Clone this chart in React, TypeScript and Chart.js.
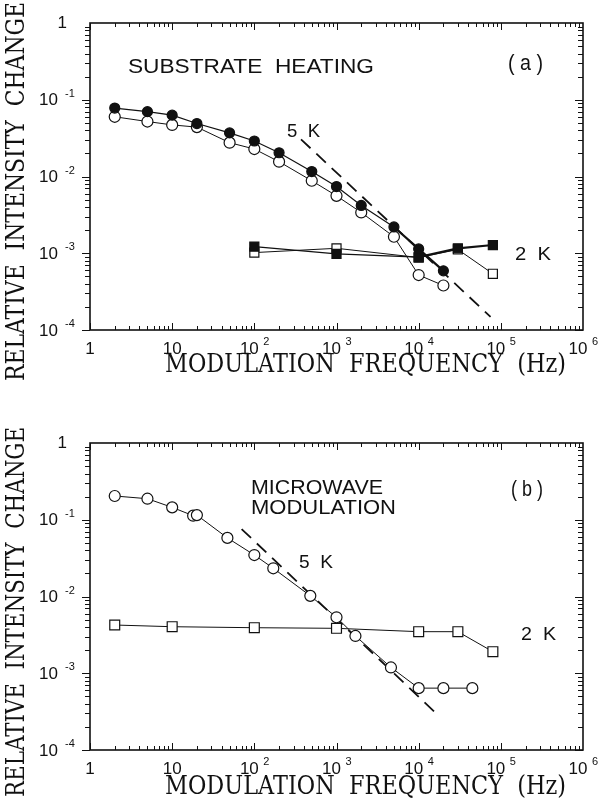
import React, { useEffect, useRef } from "react";
import { Chart, registerables } from "chart.js";
Chart.register(...registerables);

// ---- Axis tick labels ----
const xTickValues = [1, 10, 100, 1000, 10000, 100000, 1000000];
const xTickBases = ["1", "10", "10", "10", "10", "10", "10"];
const xTickExps = ["", "", "2", "3", "4", "5", "6"];
const yTickValues = [1, 0.1, 0.01, 0.001, 0.0001];
const yTickBases = ["1", "10", "10", "10", "10"];
const yTickExps = ["", "-1", "-2", "-3", "-4"];

const xTitle = "MODULATION  FREQUENCY  (Hz)";
const yTitle = "RELATIVE  INTENSITY  CHANGE";

// ---- Panel (a): substrate heating ----
const freqA5K = [2, 5, 10, 20, 50, 100, 200, 500, 1000, 2000, 5000, 10000, 20000];
const filledA5K = [0.078, 0.07, 0.063, 0.049, 0.037, 0.029, 0.0204, 0.0116, 0.0074, 0.0042, 0.0022, 0.00114, 0.00059];
const openA5K = [0.06, 0.052, 0.047, 0.044, 0.0276, 0.0228, 0.0156, 0.0088, 0.0056, 0.0034, 0.00164, 0.00052, 0.00038];
const freqA2K = [100, 1000, 10000, 30000, 80000];
const filledA2K = [0.00122, 0.00098, 0.00089, 0.00116, 0.00128];
const openA2K = [0.00102, 0.00116, 0.00088, 0.00112, 0.00054];
const dashAx = [370, 75000];
const dashAy = [0.0305, 0.000148];

// ---- Panel (b): microwave modulation ----
const freqB5K = [2, 5, 10, 18, 20, 47, 100, 170, 480, 1000, 1700, 4600, 10000, 20000, 45000];
const openB5K = [0.204, 0.188, 0.145, 0.113, 0.115, 0.058, 0.0347, 0.0233, 0.0102, 0.00536, 0.00306, 0.00119, 0.00064, 0.00064, 0.00064];
const freqB2K = [2, 10, 100, 1000, 10000, 30000, 80000];
const openB2K = [0.00425, 0.00404, 0.00392, 0.00385, 0.00348, 0.00348, 0.00191];
const dashBx = [70, 18000];
const dashBy = [0.0757, 0.000272];

const INK = "#111";
const SANS = '"Liberation Sans", Arial, sans-serif';
const SERIF = '"DejaVu Serif", serif';

function pts(xs: number[], ys: number[]) {
  return xs.map((x, i) => ({ x, y: ys[i] }));
}

type Txt = { s: string; x1: number; x2: number; yc: number; size: number };

function drawFit(ctx: CanvasRenderingContext2D, t: Txt) {
  ctx.save();
  ctx.font = `${t.size}px ${SANS}`;
  ctx.textAlign = "left";
  ctx.textBaseline = "middle";
  const w = ctx.measureText(t.s).width;
  ctx.translate(t.x1, t.yc);
  ctx.scale((t.x2 - t.x1) / w, 1);
  ctx.fillText(t.s, 0, 0);
  ctx.restore();
}

function makeDecor(texts: Txt[], xTitleY: number, yTitleC: number, yTitleLen: number) {
  return {
    id: "decor",
    afterDraw(chart: any) {
      const ctx: CanvasRenderingContext2D = chart.ctx;
      const xs = chart.scales.x;
      const ys = chart.scales.y;
      const { left, right, top, bottom } = chart.chartArea;
      ctx.save();
      ctx.strokeStyle = INK;
      ctx.fillStyle = INK;
      // frame
      ctx.lineWidth = 1.6;
      ctx.strokeRect(left, top, right - left, bottom - top);
      // x ticks (inward, top and bottom)
      ctx.lineWidth = 1;
      ctx.beginPath();
      for (let d = 0; d < 6; d++) {
        for (let m = 1; m <= 9; m++) {
          const px = Math.round(xs.getPixelForValue(Math.pow(10, d) * m)) + 0.5;
          const len = m === 1 ? 7 : 4;
          ctx.moveTo(px, bottom);
          ctx.lineTo(px, bottom - len);
          ctx.moveTo(px, top);
          ctx.lineTo(px, top + len);
        }
      }
      // y ticks (outward on left, inward on right)
      for (let d = -4; d < 0; d++) {
        for (let m = 1; m <= 9; m++) {
          const py = Math.round(ys.getPixelForValue(Math.pow(10, d) * m)) + 0.5;
          const len = m === 1 ? 8 : 5;
          ctx.moveTo(left, py);
          ctx.lineTo(left - len, py);
          ctx.moveTo(right, py);
          ctx.lineTo(right - len, py);
        }
      }
      ctx.stroke();

      // x tick labels
      ctx.textBaseline = "middle";
      xTickValues.forEach((v, i) => {
        const px = xs.getPixelForValue(v);
        ctx.font = `17px ${SANS}`;
        if (!xTickExps[i]) {
          ctx.textAlign = "center";
          ctx.fillText(xTickBases[i], px, bottom + 19);
        } else {
          ctx.textAlign = "center";
          ctx.fillText(xTickBases[i], px - 5, bottom + 19);
          ctx.font = `11px ${SANS}`;
          ctx.textAlign = "left";
          ctx.fillText(xTickExps[i], px + 9, bottom + 12);
        }
      });
      // y tick labels
      yTickValues.forEach((v, i) => {
        const py = ys.getPixelForValue(v);
        ctx.font = `17px ${SANS}`;
        ctx.textAlign = "right";
        if (!yTickExps[i]) {
          ctx.fillText(yTickBases[i], 67, py);
        } else {
          ctx.fillText(yTickBases[i], 58, py + 1);
          ctx.font = `11px ${SANS}`;
          ctx.textAlign = "left";
          ctx.fillText(yTickExps[i], 65, py - 6);
        }
      });

      // annotations
      texts.forEach((t) => drawFit(ctx, t));

      // axis titles (serif)
      ctx.font = `26px ${SERIF}`;
      ctx.textAlign = "center";
      ctx.textBaseline = "middle";
      {
        const w = ctx.measureText(xTitle).width;
        ctx.save();
        ctx.translate((165 + 566) / 2, xTitleY);
        ctx.scale(401 / w, 1);
        ctx.fillText(xTitle, 0, 0);
        ctx.restore();
      }
      {
        const w = ctx.measureText(yTitle).width;
        ctx.save();
        ctx.translate(17, yTitleC);
        ctx.rotate(-Math.PI / 2);
        ctx.scale(yTitleLen / w, 1);
        ctx.fillText(yTitle, 0, 0);
        ctx.restore();
      }
      ctx.restore();
    },
  };
}

function series(data: any[], filled: boolean, style: string, radius: number, extra: any = {}) {
  return {
    data,
    showLine: true,
    borderColor: INK,
    borderWidth: 1,
    pointStyle: style,
    pointRadius: radius,
    pointBorderWidth: 1.2,
    pointBorderColor: INK,
    pointBackgroundColor: filled ? INK : "#fff",
    fill: false,
    tension: 0,
    ...extra,
  };
}

function dashed(data: any[]) {
  return {
    data,
    showLine: true,
    borderColor: INK,
    borderWidth: 1.8,
    borderDash: [13, 8],
    pointRadius: 0,
    fill: false,
  };
}

function buildConfig(datasets: any[], padTop: number, xAxisH: number, decor: any) {
  return {
    type: "line" as const,
    data: { datasets },
    options: {
      responsive: false,
      animation: false as const,
      devicePixelRatio: 1,
      layout: { padding: { top: padTop, right: 17, left: 0, bottom: 0 } },
      plugins: { legend: { display: false }, tooltip: { enabled: false } },
      scales: {
        x: {
          type: "logarithmic" as const,
          min: 1,
          max: 1e6,
          ticks: { display: false },
          grid: { display: false },
          border: { display: false },
          afterFit: (s: any) => {
            s.height = xAxisH;
          },
        },
        y: {
          type: "logarithmic" as const,
          min: 1e-4,
          max: 1,
          ticks: { display: false },
          grid: { display: false },
          border: { display: false },
          afterFit: (s: any) => {
            s.width = 90;
          },
        },
      },
    },
    plugins: [decor],
  };
}

export default function App() {
  const refA = useRef<HTMLCanvasElement>(null);
  const refB = useRef<HTMLCanvasElement>(null);

  useEffect(() => {
    const thickFrom = (k: number) => ({
      segment: { borderWidth: (c: any) => (c.p0DataIndex >= k ? 2.2 : 1.2) },
    });
    const dsA = [
      series(pts(freqA2K, filledA2K), true, "rect", 6.4, thickFrom(2)),
      series(pts(freqA5K, filledA5K), true, "circle", 5, thickFrom(10)),
      series(pts(freqA2K, openA2K), false, "rect", 6.4),
      series(pts(freqA5K, openA5K), false, "circle", 5.5),
      dashed(pts(dashAx, dashAy)),
    ];
    const textsA: Txt[] = [
      { s: "SUBSTRATE  HEATING", x1: 128, x2: 374, yc: 67, size: 20 },
      { s: "( a )", x1: 508, x2: 543, yc: 64, size: 22 },
      { s: "5  K", x1: 287, x2: 320, yc: 132, size: 19 },
      { s: "2  K", x1: 515, x2: 551, yc: 255, size: 19 },
    ];
    const dsB = [
      series(pts(freqB5K, openB5K), false, "circle", 5.5),
      series(pts(freqB2K, openB2K), false, "rect", 7),
      dashed(pts(dashBx, dashBy)),
    ];
    const textsB: Txt[] = [
      { s: "MICROWAVE", x1: 251, x2: 383, yc: 88, size: 20 },
      { s: "MODULATION", x1: 251, x2: 396, yc: 108.5, size: 20 },
      { s: "( b )", x1: 511, x2: 543, yc: 90, size: 22 },
      { s: "5  K", x1: 299, x2: 333, yc: 162.5, size: 19 },
      { s: "2  K", x1: 521, x2: 556, yc: 235, size: 19 },
    ];
    const a = new Chart(refA.current as HTMLCanvasElement, buildConfig(dsA, 23, 70, makeDecor(textsA, 365, 191.5, 379)) as any);
    const b = new Chart(refB.current as HTMLCanvasElement, buildConfig(dsB, 43, 53, makeDecor(textsB, 387, 212, 370)) as any);
    return () => {
      a.destroy();
      b.destroy();
    };
  }, []);

  return (
    <div style={{ position: "absolute", left: 0, top: 0, width: 600, height: 803, background: "#fff", overflow: "hidden" }}>
      <canvas ref={refA} width={600} height={400} style={{ position: "absolute", left: 0, top: 0, width: 600, height: 400 }} />
      <canvas ref={refB} width={600} height={403} style={{ position: "absolute", left: 0, top: 400, width: 600, height: 403 }} />
    </div>
  );
}
